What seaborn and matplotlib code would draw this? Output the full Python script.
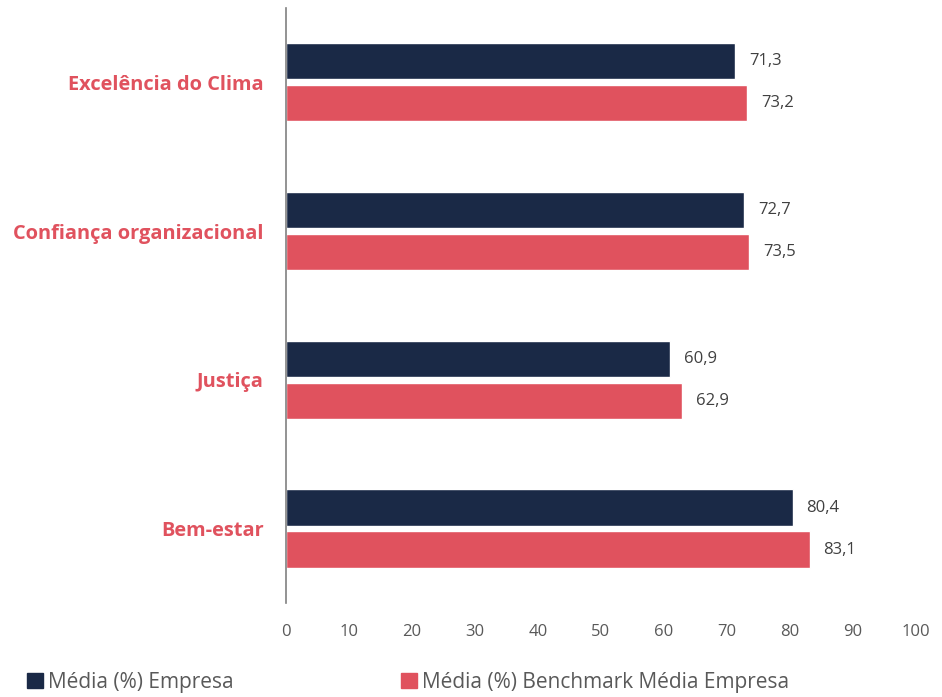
import matplotlib
matplotlib.use("Agg")
import matplotlib.pyplot as plt
import seaborn as sns
import pandas as pd
from matplotlib.patches import Patch

categories = ["Excelência do Clima", "Confiança organizacional", "Justiça", "Bem-estar"]
empresa = [71.3, 72.7, 60.9, 80.4]
benchmark = [73.2, 73.5, 62.9, 83.1]
series_names = ["Média (%) Empresa", "Média (%) Benchmark Média Empresa"]
xticks = [0, 10, 20, 30, 40, 50, 60, 70, 80, 90, 100]

navy = "#1a2946"
red = "#e0525e"

sns.set_theme(style="white")
plt.rcParams["font.family"] = ["Open Sans", "DejaVu Sans"]

df = pd.DataFrame({
    "cat": categories * 2,
    "val": empresa + benchmark,
    "serie": [series_names[0]] * 4 + [series_names[1]] * 4,
})

fig = plt.figure(figsize=(9.42, 6.97), dpi=100)
ax = fig.add_axes([0.3036, 0.135, 0.6688, 0.8535])
sns.barplot(data=df, y="cat", x="val", hue="serie", order=categories,
            hue_order=series_names, palette=[navy, red], width=0.565, gap=0.14,
            orient="h", ax=ax, legend=False, saturation=1)

for cont in ax.containers:
    labels = [f"{v:.1f}".replace(".", ",") for v in cont.datavalues]
    ax.bar_label(cont, labels=labels, padding=10, fontsize=12, color="#404040")

ax.set_xlim(0, 100)
ax.set_ylim(3.5, -0.5)
ax.set_xticks(xticks)
ax.set_xticklabels([str(t) for t in xticks], fontsize=12, color="#595959")
ax.set_xlabel("")
ax.set_ylabel("")
ax.tick_params(axis="x", length=0, pad=15)
ax.tick_params(axis="y", length=0, pad=16)
for lbl in ax.get_yticklabels():
    lbl.set_fontsize(14.4)
    lbl.set_fontweight("bold")
    lbl.set_color(red)
for s in ["top", "right", "bottom"]:
    ax.spines[s].set_visible(False)
ax.spines["left"].set_color("#808080")
ax.spines["left"].set_linewidth(1.2)

leg_kw = dict(loc="center left", frameon=False, fontsize=15, handlelength=0.75,
              handleheight=0.75, handletextpad=0.25, labelcolor="#595959",
              borderaxespad=0, borderpad=0)
fig.legend(handles=[Patch(color=navy, label=series_names[0])],
           bbox_to_anchor=(0.029, 0.021), **leg_kw)
fig.legend(handles=[Patch(color=red, label=series_names[1])],
           bbox_to_anchor=(0.426, 0.021), **leg_kw)

fig.savefig("out.png", dpi=100)
